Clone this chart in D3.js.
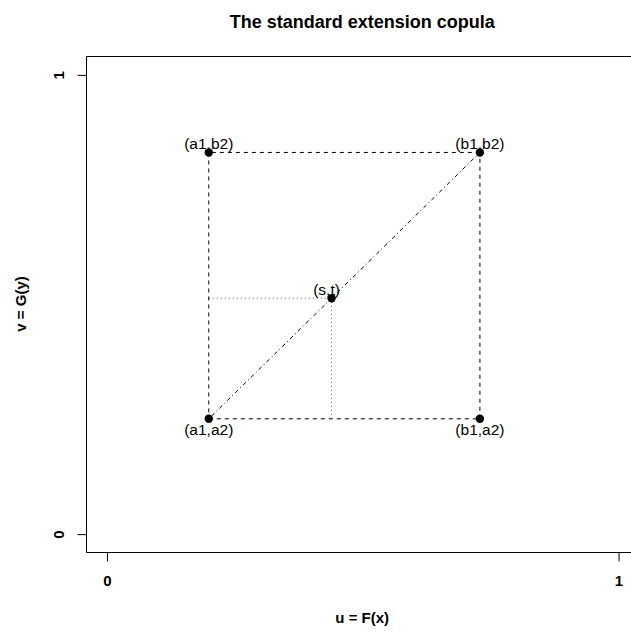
<!DOCTYPE html>
<html>
<head>
<meta charset="utf-8">
<script src="https://cdn.jsdelivr.net/npm/d3@7"></script>
<style>
  html, body { margin: 0; padding: 0; background: #fff; }
  svg { display: block; font-family: "Liberation Sans", Arial, sans-serif; }
</style>
</head>
<body>
<svg id="chart" width="631" height="633"></svg>
<script>
// Corner points of the rectangle [a1,b1] x [a2,b2] and the interior point (s,t)
const cornerNames = ["(a1,a2)", "(b1,a2)", "(b1,b2)", "(a1,b2)"];
const cornerU = [0.2, 0.73, 0.73, 0.2];
const cornerV = [0.25, 0.25, 0.83, 0.83];
const labelSide = ["below", "below", "above", "above"];
const innerName = "(s,t)";
const innerU = 0.44;
const innerV = 0.5126;
const tickValues = [0, 1];
const tickLabels = ["0", "1"];

const svg = d3.select("#chart");
const box = { left: 86, top: 56, right: 638.5, bottom: 552 };

// R-style axes: 4% padding around [0,1]
const x = d3.scaleLinear().domain([-0.04, 1.04]).range([box.left, box.right]);
const y = d3.scaleLinear().domain([-0.04, 1.04]).range([box.bottom, box.top]);

// plot frame (right side falls outside the drawing area)
const frame = svg.append("g").attr("stroke", "#000").attr("stroke-width", 1);
frame.append("line").attr("x1", box.left + 0.5).attr("x2", 631).attr("y1", box.top + 0.5).attr("y2", box.top + 0.5);
frame.append("line").attr("x1", box.left + 0.5).attr("x2", 631).attr("y1", box.bottom + 0.5).attr("y2", box.bottom + 0.5);
frame.append("line").attr("x1", box.left + 0.5).attr("x2", box.left + 0.5).attr("y1", box.top + 0.5).attr("y2", box.bottom + 0.5);

// x axis ticks and labels
const xAxis = d3.axisBottom(x).tickValues(tickValues).tickSize(9).tickFormat((d, i) => tickLabels[i]);
const gx = svg.append("g").attr("transform", `translate(0.5,${box.bottom + 0.5})`).call(xAxis);
gx.select(".domain").remove();
gx.selectAll(".tick line").attr("stroke", "#000");
gx.selectAll(".tick text")
  .attr("y", 28).attr("dy", "0.35em")
  .attr("font-size", 15).attr("font-weight", "bold")
  .attr("font-family", "Liberation Sans, Arial, sans-serif").attr("fill", "#000");

// y axis ticks and labels (labels parallel to the axis)
const yAxis = d3.axisLeft(y).tickValues(tickValues).tickSize(9).tickFormat((d, i) => tickLabels[i]);
const gy = svg.append("g").attr("transform", `translate(${box.left + 0.5},0.5)`).call(yAxis);
gy.select(".domain").remove();
gy.selectAll(".tick line").attr("stroke", "#000");
gy.selectAll(".tick text")
  .attr("x", 0).attr("dy", null)
  .attr("transform", "translate(-28,0) rotate(-90)")
  .attr("text-anchor", "middle").attr("dominant-baseline", "central")
  .attr("font-size", 15).attr("font-weight", "bold")
  .attr("font-family", "Liberation Sans, Arial, sans-serif").attr("fill", "#000");

// rectangle edges (dashed)
const plot = svg.append("g");
const edges = d3.range(4).map(i => [i, (i + 1) % 4]);
plot.selectAll("line.edge").data(edges).join("line")
  .attr("class", "edge")
  .attr("x1", d => x(cornerU[d[0]])).attr("y1", d => y(cornerV[d[0]]))
  .attr("x2", d => x(cornerU[d[1]])).attr("y2", d => y(cornerV[d[1]]))
  .attr("stroke", "#000").attr("stroke-width", 1).attr("stroke-dasharray", "4,4");

// diagonal from (a1,a2) to (b1,b2), dot-dash
plot.append("line")
  .attr("x1", x(cornerU[0])).attr("y1", y(cornerV[0]))
  .attr("x2", x(cornerU[2])).attr("y2", y(cornerV[2]))
  .attr("stroke", "#000").attr("stroke-width", 1).attr("stroke-dasharray", "1,3,4,3");

// projections of (s,t) onto the left and bottom edges, dotted
const proj = [
  [cornerU[0], innerV, innerU, innerV],
  [innerU, cornerV[0], innerU, innerV]
];
plot.selectAll("line.proj").data(proj).join("line")
  .attr("class", "proj")
  .attr("x1", d => x(d[0])).attr("y1", d => y(d[1]))
  .attr("x2", d => x(d[2])).attr("y2", d => y(d[3]))
  .attr("stroke", "#555").attr("stroke-width", 1).attr("stroke-dasharray", "1,3");

// points
const pts = cornerU.map((u, i) => ({ u, v: cornerV[i], name: cornerNames[i], side: labelSide[i], dx: 0 }));
pts.push({ u: innerU, v: innerV, name: innerName, side: "above", dx: -5 });

plot.selectAll("circle").data(pts).join("circle")
  .attr("cx", d => x(d.u)).attr("cy", d => y(d.v)).attr("r", 4.2).attr("fill", "#000");

plot.selectAll("text.pt").data(pts).join("text")
  .attr("class", "pt")
  .attr("x", d => x(d.u) + d.dx)
  .attr("y", d => y(d.v) + (d.side === "above" ? -9 : 11))
  .attr("text-anchor", "middle").attr("dominant-baseline", "central")
  .attr("font-size", 15.5).attr("fill", "#000")
  .text(d => d.name);

// titles
const cx = (box.left + box.right) / 2;
svg.append("text")
  .attr("x", cx).attr("y", 22)
  .attr("text-anchor", "middle").attr("dominant-baseline", "central")
  .attr("font-size", 18).attr("font-weight", "bold")
  .text("The standard extension copula");

svg.append("text")
  .attr("x", cx).attr("y", 617)
  .attr("text-anchor", "middle").attr("dominant-baseline", "central")
  .attr("font-size", 15).attr("font-weight", "bold")
  .text("u = F(x)");

svg.append("text")
  .attr("transform", `translate(20.5,${(box.top + box.bottom) / 2}) rotate(-90)`)
  .attr("text-anchor", "middle").attr("dominant-baseline", "central")
  .attr("font-size", 15).attr("font-weight", "bold")
  .text("v = G(y)");
</script>
</body>
</html>
